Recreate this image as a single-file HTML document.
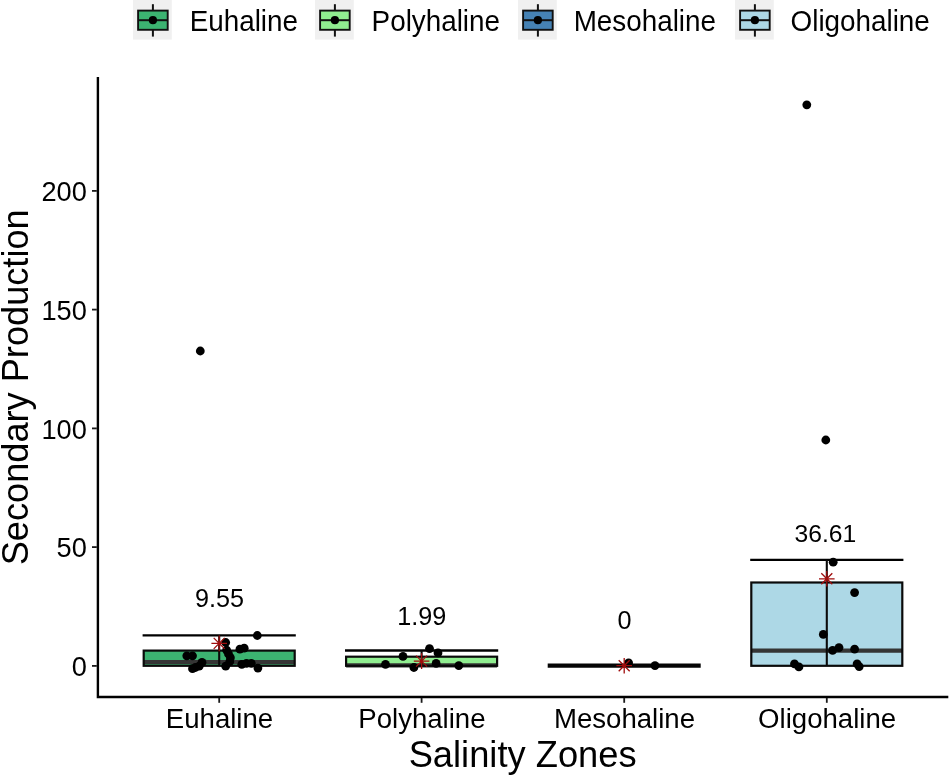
<!DOCTYPE html>
<html lang="en"><head><meta charset="utf-8"><title>Secondary Production by Salinity Zones</title>
<style>html,body{margin:0;padding:0;background:#fff}svg{display:block}text{font-family:"Liberation Sans",sans-serif;fill:#000}</style></head><body>
<svg width="950" height="776" viewBox="0 0 950 776">
<rect width="950" height="776" fill="#fff"/>
<g><rect x="133.0" y="0" width="38.8" height="39.6" fill="#f0f0f0"/>
<line x1="152.9" y1="4.2" x2="152.9" y2="36.6" stroke="#111" stroke-width="2"/>
<rect x="138.1" y="10.6" width="29.6" height="19.2" fill="#3CB371" stroke="#111" stroke-width="1.9"/>
<line x1="138.1" y1="20.2" x2="167.70000000000002" y2="20.2" stroke="#111" stroke-width="2"/>
<circle cx="152.9" cy="20.2" r="4.1" fill="#000"/>
<text transform="translate(189.7,31.3) scale(0.963,1)" font-size="28.9">Euhaline</text></g>
<g><rect x="315.0" y="0" width="38.8" height="39.6" fill="#f0f0f0"/>
<line x1="334.9" y1="4.2" x2="334.9" y2="36.6" stroke="#111" stroke-width="2"/>
<rect x="320.09999999999997" y="10.6" width="29.6" height="19.2" fill="#90EE90" stroke="#111" stroke-width="1.9"/>
<line x1="320.09999999999997" y1="20.2" x2="349.7" y2="20.2" stroke="#111" stroke-width="2"/>
<circle cx="334.9" cy="20.2" r="4.1" fill="#000"/>
<text transform="translate(371.6,31.3) scale(0.963,1)" font-size="28.9">Polyhaline</text></g>
<g><rect x="518.0" y="0" width="38.8" height="39.6" fill="#f0f0f0"/>
<line x1="537.9" y1="4.2" x2="537.9" y2="36.6" stroke="#111" stroke-width="2"/>
<rect x="523.1" y="10.6" width="29.6" height="19.2" fill="#4682B4" stroke="#111" stroke-width="1.9"/>
<line x1="523.1" y1="20.2" x2="552.6999999999999" y2="20.2" stroke="#111" stroke-width="2"/>
<circle cx="537.9" cy="20.2" r="4.1" fill="#000"/>
<text transform="translate(573.7,31.3) scale(0.963,1)" font-size="28.9">Mesohaline</text></g>
<g><rect x="735.0" y="0" width="38.8" height="39.6" fill="#f0f0f0"/>
<line x1="754.9" y1="4.2" x2="754.9" y2="36.6" stroke="#111" stroke-width="2"/>
<rect x="740.1" y="10.6" width="29.6" height="19.2" fill="#ADD8E6" stroke="#111" stroke-width="1.9"/>
<line x1="740.1" y1="20.2" x2="769.6999999999999" y2="20.2" stroke="#111" stroke-width="2"/>
<circle cx="754.9" cy="20.2" r="4.1" fill="#000"/>
<text transform="translate(790.6,31.3) scale(0.963,1)" font-size="28.9">Oligohaline</text></g>
<path d="M97.9 76.9V697H948.3" fill="none" stroke="#000" stroke-width="2.4" stroke-linejoin="miter"/>
<line x1="92" y1="665.9" x2="96.8" y2="665.9" stroke="#1a1a1a" stroke-width="1.8"/>
<text x="86.8" y="676.0" font-size="27.2" text-anchor="end">0</text>
<line x1="92" y1="547.1" x2="96.8" y2="547.1" stroke="#1a1a1a" stroke-width="1.8"/>
<text x="86.8" y="557.2" font-size="27.2" text-anchor="end">50</text>
<line x1="92" y1="428.4" x2="96.8" y2="428.4" stroke="#1a1a1a" stroke-width="1.8"/>
<text x="86.8" y="438.5" font-size="27.2" text-anchor="end">100</text>
<line x1="92" y1="309.6" x2="96.8" y2="309.6" stroke="#1a1a1a" stroke-width="1.8"/>
<text x="86.8" y="319.8" font-size="27.2" text-anchor="end">150</text>
<line x1="92" y1="190.9" x2="96.8" y2="190.9" stroke="#1a1a1a" stroke-width="1.8"/>
<text x="86.8" y="201.0" font-size="27.2" text-anchor="end">200</text>
<line x1="219.2" y1="698" x2="219.2" y2="702.8" stroke="#1a1a1a" stroke-width="1.8"/>
<text transform="translate(219.5,728.2) scale(1.03,1)" font-size="26.8" text-anchor="middle">Euhaline</text>
<line x1="421.6" y1="698" x2="421.6" y2="702.8" stroke="#1a1a1a" stroke-width="1.8"/>
<text transform="translate(421.90000000000003,728.2) scale(1.03,1)" font-size="26.8" text-anchor="middle">Polyhaline</text>
<line x1="624.2" y1="698" x2="624.2" y2="702.8" stroke="#1a1a1a" stroke-width="1.8"/>
<text transform="translate(624.5,728.2) scale(1.03,1)" font-size="26.8" text-anchor="middle">Mesohaline</text>
<line x1="826.8" y1="698" x2="826.8" y2="702.8" stroke="#1a1a1a" stroke-width="1.8"/>
<text transform="translate(827.0999999999999,728.2) scale(1.03,1)" font-size="26.8" text-anchor="middle">Oligohaline</text>
<text transform="translate(522.6,766.5) scale(0.992,1)" font-size="36.6" text-anchor="middle">Salinity Zones</text>
<text transform="translate(27.8,387.3) rotate(-90) scale(0.986,1)" font-size="36.7" text-anchor="middle">Secondary Production</text>
<g>
<line x1="142.6" y1="635.3" x2="295.8" y2="635.3" stroke="#000" stroke-width="2.3"/>
<line x1="219.2" y1="635.3" x2="219.2" y2="650.6" stroke="#0a0a0a" stroke-width="2.1"/>
<rect x="143.7" y="650.6" width="151.0" height="15.2" fill="#3CB371"/>
<line x1="143.7" y1="662.2" x2="294.7" y2="662.2" stroke="#353535" stroke-width="4.2"/>
<rect x="143.7" y="650.6" width="151.0" height="15.2" fill="none" stroke="#0a0a0a" stroke-width="2.2"/>
<line x1="219.2" y1="650.6" x2="219.2" y2="665.8" stroke="#0a0a0a" stroke-width="2.1"/>
<circle cx="257.3" cy="635.5" r="4.4" fill="#000"/>
<circle cx="225.7" cy="642.5" r="4.4" fill="#000"/>
<circle cx="186.8" cy="655.8" r="4.4" fill="#000"/>
<circle cx="192.5" cy="655.8" r="4.4" fill="#000"/>
<circle cx="239.9" cy="649.2" r="4.4" fill="#000"/>
<circle cx="244.2" cy="648.2" r="4.4" fill="#000"/>
<circle cx="226.6" cy="650.1" r="4.4" fill="#000"/>
<circle cx="228.5" cy="653.9" r="4.4" fill="#000"/>
<circle cx="230.4" cy="657.7" r="4.4" fill="#000"/>
<circle cx="229.8" cy="661.5" r="4.4" fill="#000"/>
<circle cx="225.7" cy="666.2" r="4.4" fill="#000"/>
<circle cx="202" cy="662.4" r="4.4" fill="#000"/>
<circle cx="199.2" cy="666.2" r="4.4" fill="#000"/>
<circle cx="195.4" cy="667.5" r="4.4" fill="#000"/>
<circle cx="192.5" cy="668.7" r="4.4" fill="#000"/>
<circle cx="241.8" cy="664.3" r="4.4" fill="#000"/>
<circle cx="246.5" cy="663.4" r="4.4" fill="#000"/>
<circle cx="251.3" cy="663.4" r="4.4" fill="#000"/>
<circle cx="257.9" cy="668.1" r="4.4" fill="#000"/>
<circle cx="200.3" cy="351" r="4.4" fill="#000"/>
<path d="M211.39999999999998 643.4H227.0M219.2 635.6V651.1999999999999M213.7 637.9L224.7 648.9M213.7 648.9L224.7 637.9" stroke="#a00d0d" stroke-width="1.3" fill="none"/>
<text x="219.4" y="607.0" font-size="25.2" text-anchor="middle">9.55</text>
</g>
<g>
<line x1="345.0" y1="650.5" x2="498.2" y2="650.5" stroke="#000" stroke-width="2.3"/>
<line x1="421.6" y1="650.5" x2="421.6" y2="656.7" stroke="#0a0a0a" stroke-width="2.1"/>
<rect x="346.1" y="656.7" width="151.0" height="9.1" fill="#90EE90"/>
<line x1="346.1" y1="665.3" x2="497.1" y2="665.3" stroke="#353535" stroke-width="4.2"/>
<rect x="346.1" y="656.7" width="151.0" height="9.1" fill="none" stroke="#0a0a0a" stroke-width="2.2"/>
<line x1="421.6" y1="656.7" x2="421.6" y2="665.8" stroke="#0a0a0a" stroke-width="2.1"/>
<circle cx="429.5" cy="648.6" r="4.4" fill="#000"/>
<circle cx="438" cy="652.9" r="4.4" fill="#000"/>
<circle cx="403" cy="656.4" r="4.4" fill="#000"/>
<circle cx="385.5" cy="664.3" r="4.4" fill="#000"/>
<circle cx="413.9" cy="667.5" r="4.4" fill="#000"/>
<circle cx="436.1" cy="663.4" r="4.4" fill="#000"/>
<circle cx="458.8" cy="665.6" r="4.4" fill="#000"/>
<path d="M413.8 661.1H429.40000000000003M421.6 653.3000000000001V668.9M416.1 655.6L427.1 666.6M416.1 666.6L427.1 655.6" stroke="#a00d0d" stroke-width="1.3" fill="none"/>
<text x="421.8" y="624.7" font-size="25.2" text-anchor="middle">1.99</text>
</g>
<g>
<line x1="547.7" y1="665.7" x2="700.7" y2="665.7" stroke="#050505" stroke-width="4.2"/>
<circle cx="628.6" cy="662.9" r="4.4" fill="#000"/>
<circle cx="655" cy="665.6" r="4.4" fill="#000"/>
<path d="M616.4000000000001 665.7H632.0M624.2 657.9000000000001V673.5M618.7 660.2L629.7 671.2M618.7 671.2L629.7 660.2" stroke="#a00d0d" stroke-width="1.3" fill="none"/>
<text x="624.5" y="629.3" font-size="25.2" text-anchor="middle">0</text>
</g>
<g>
<line x1="750.2" y1="559.9" x2="903.4" y2="559.9" stroke="#000" stroke-width="2.3"/>
<line x1="826.8" y1="559.9" x2="826.8" y2="582.5" stroke="#0a0a0a" stroke-width="2.1"/>
<rect x="751.3" y="582.5" width="151.0" height="83.3" fill="#ADD8E6"/>
<line x1="751.3" y1="650.7" x2="902.3" y2="650.7" stroke="#353535" stroke-width="4.2"/>
<rect x="751.3" y="582.5" width="151.0" height="83.3" fill="none" stroke="#0a0a0a" stroke-width="2.2"/>
<line x1="826.8" y1="582.5" x2="826.8" y2="665.8" stroke="#0a0a0a" stroke-width="2.1"/>
<circle cx="833.2" cy="562.2" r="4.4" fill="#000"/>
<circle cx="854.6" cy="592.6" r="4.4" fill="#000"/>
<circle cx="823.3" cy="634.4" r="4.4" fill="#000"/>
<circle cx="832.6" cy="650.4" r="4.4" fill="#000"/>
<circle cx="839" cy="647.6" r="4.4" fill="#000"/>
<circle cx="854.6" cy="649.2" r="4.4" fill="#000"/>
<circle cx="794.5" cy="663.9" r="4.4" fill="#000"/>
<circle cx="798.9" cy="666.9" r="4.4" fill="#000"/>
<circle cx="857.1" cy="663.9" r="4.4" fill="#000"/>
<circle cx="859.2" cy="666.6" r="4.4" fill="#000"/>
<circle cx="806.8" cy="104.8" r="4.4" fill="#000"/>
<circle cx="825.8" cy="440" r="4.4" fill="#000"/>
<path d="M819.0 578.8H834.5999999999999M826.8 571.0V586.5999999999999M821.3 573.3L832.3 584.3M821.3 584.3L832.3 573.3" stroke="#a00d0d" stroke-width="1.3" fill="none"/>
<text x="825.4" y="542.4" font-size="24.7" text-anchor="middle">36.61</text>
</g>
</svg></body></html>
